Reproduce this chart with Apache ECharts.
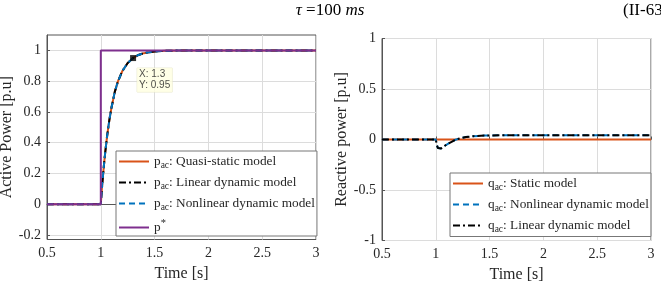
<!DOCTYPE html>
<html><head><meta charset="utf-8">
<script src="https://cdn.jsdelivr.net/npm/echarts@6/dist/echarts.min.js"></script>
<style>html,body{margin:0;padding:0;background:#fff;overflow:hidden}#c{width:661px;height:284px}</style>
</head><body><div id="c"></div>
<script>
// ---- data ----
const xTickValues = [0.5, 1, 1.5, 2, 2.5, 3];
const pYTicks = [-0.2, 0, 0.2, 0.4, 0.6, 0.8, 1];
const qYTicks = [-1, -0.5, 0, 0.5, 1];

const pStarTime = [0.5, 1.0, 1.0, 3.0];
const pStarVal  = [0, 0, 1, 1];

const pTime      = [0.5, 1.0, 1.01, 1.02, 1.03, 1.04, 1.06, 1.08, 1.1, 1.13, 1.16, 1.2, 1.25, 1.3, 1.35, 1.4, 1.5, 1.6, 1.8, 2.0, 3.0];
const pQuasi     = [0, 0, 0.10, 0.18, 0.26, 0.33, 0.45, 0.55, 0.63, 0.73, 0.80, 0.865, 0.918, 0.95, 0.97, 0.982, 0.993, 0.997, 1, 1, 1];
const pLinear    = [0, 0, 0.10, 0.18, 0.26, 0.33, 0.45, 0.55, 0.63, 0.73, 0.80, 0.865, 0.918, 0.95, 0.97, 0.982, 0.993, 0.997, 1, 1, 1];
const pNonlinear = [0, 0, 0.10, 0.18, 0.26, 0.33, 0.45, 0.55, 0.63, 0.73, 0.80, 0.865, 0.918, 0.95, 0.97, 0.982, 0.993, 0.997, 1, 1, 1];

const tipX = 1.3;
const tipY = 0.95;

const qStaticTime = [0.5, 3.0];
const qStatic     = [0, 0];
const qTime       = [0.5, 1.0, 1.01, 1.02, 1.03, 1.05, 1.08, 1.12, 1.16, 1.19, 1.23, 1.28, 1.35, 1.45, 1.6, 2.0, 3.0];
const qNonlinear  = [0, 0, -0.055, -0.085, -0.095, -0.088, -0.065, -0.038, -0.015, 0, 0.013, 0.024, 0.033, 0.039, 0.042, 0.043, 0.043];
const qLinear     = [0, 0, -0.055, -0.085, -0.095, -0.088, -0.065, -0.038, -0.015, 0, 0.013, 0.024, 0.033, 0.039, 0.042, 0.043, 0.043];

// ---- helpers ----
const zip = (xs, ys) => xs.map((x, i) => [x, ys[i]]);
const serif = 'Liberation Serif';
const txt = '#262626';
const frame = '#555555';
const gridC = '#dcdcdc';
const ORANGE = '#D95319', BLUE = '#0072BD', PURPLE = '#7E2F8E';
const dashDot = [7, 3, 2, 3];
const dashed = [6, 4];

function mkX(gi) {
  return {
    type: 'value', gridIndex: gi, min: 0.5, max: 3, interval: 0.5,
    name: 'Time [s]', nameLocation: 'middle', nameGap: 26,
    nameTextStyle: { fontFamily: serif, fontSize: 16, color: txt },
    axisLine: { show: true, lineStyle: { color: frame } },
    axisTick: { show: true, inside: true, length: 3, lineStyle: { color: frame } },
    axisLabel: { fontFamily: serif, fontSize: 14, color: txt, margin: 7 },
    splitLine: { show: true, lineStyle: { color: gridC, width: 1 } }
  };
}
function mkY(gi, name, min, max, ticks, interval, gap) {
  const o = {
    type: 'value', gridIndex: gi, min: min, max: max,
    name: name, nameLocation: 'middle', nameGap: gap,
    nameTextStyle: { fontFamily: serif, fontSize: 16, color: txt },
    axisLine: { show: true, lineStyle: { color: frame } },
    axisTick: { show: true, inside: true, length: 3, lineStyle: { color: frame } },
    axisLabel: { fontFamily: serif, fontSize: 14, color: txt, margin: 6 },
    splitLine: { show: true, lineStyle: { color: gridC, width: 1 } }
  };
  if (interval) o.interval = interval;
  else { o.axisLabel.customValues = ticks; o.axisTick.customValues = ticks; }
  return o;
}
function line(name, gi, data, color, type, z) {
  return {
    name: name, type: 'line', xAxisIndex: gi, yAxisIndex: gi, data: data,
    symbol: 'none', showSymbol: false, z: z,
    lineStyle: { color: color, width: 2, type: type },
    itemStyle: { color: color }, silent: true
  };
}

const richLeg = {
  v: { fontFamily: serif, fontSize: 13.3, color: txt },
  sub: { fontFamily: serif, fontSize: 9.5, color: txt, padding: [8, 0, 0, 0] },
  sup: { fontFamily: serif, fontSize: 10.5, color: txt, padding: [0, 0, 8, 0] }
};
const legLabels = {
  pq: '{v|p}{sub|ac}{v|: Quasi-static model}',
  pl: '{v|p}{sub|ac}{v|: Linear dynamic model}',
  pn: '{v|p}{sub|ac}{v|: Nonlinear dynamic model}',
  ps: '{v|p}{sup|*}',
  qs: '{v|q}{sub|ac}{v|: Static model}',
  qn: '{v|q}{sub|ac}{v|: Nonlinear dynamic model}',
  ql: '{v|q}{sub|ac}{v|: Linear dynamic model}'
};
function mkLegend(data, left, top) {
  return {
    data: data, left: left, top: top, orient: 'vertical',
    itemWidth: 30, itemHeight: 14, itemGap: 5.5,
    backgroundColor: '#fff', borderColor: '#777', borderWidth: 1, borderRadius: 0,
    padding: [4, 2, 2, 2],
    itemStyle: { color: 'rgba(0,0,0,0)', borderColor: 'rgba(0,0,0,0)', borderWidth: 0, opacity: 0 },
    textStyle: { fontFamily: serif, fontSize: 13.3, color: txt, rich: richLeg },
    formatter: n => legLabels[n],
    selectedMode: false
  };
}

const chart = echarts.init(document.getElementById('c'), null, { renderer: 'canvas' });
chart.setOption({
  animation: false,
  backgroundColor: '#fff',
  grid: [
    { left: 47, top: 35, width: 269, height: 204.5, show: true, borderColor: frame, borderWidth: 1, backgroundColor: '#fff', containLabel: false, outerBoundsMode: 'none' },
    { left: 382, top: 38.5, width: 269, height: 202, show: true, borderColor: frame, borderWidth: 1, backgroundColor: '#fff', containLabel: false, outerBoundsMode: 'none' }
  ],
  xAxis: [mkX(0), mkX(1)],
  yAxis: [
    mkY(0, 'Active Power [p.u]', -0.23, 1.1, pYTicks, null, 30),
    mkY(1, 'Reactive power [p.u]', -1, 1, qYTicks, 0.5, 28)
  ],
  legend: [
    mkLegend(['pq', 'pl', 'pn', 'ps'], 116, 151),
    mkLegend(['qs', 'qn', 'ql'], 450, 173)
  ],
  series: [
    line('pq', 0, zip(pTime, pQuasi), ORANGE, 'solid', 2),
    line('pl', 0, zip(pTime, pLinear), '#000', dashDot, 3),
    line('pn', 0, zip(pTime, pNonlinear), BLUE, dashed, 4),
    line('ps', 0, zip(pStarTime, pStarVal), PURPLE, 'solid', 5),
    {
      type: 'scatter', xAxisIndex: 0, yAxisIndex: 0, data: [[tipX, tipY]], z: 10, silent: true,
      symbol: 'rect', symbolSize: 6, itemStyle: { color: '#000' },
      label: {
        show: true, position: [7, 13],
        formatter: 'X: ' + tipX + '\nY: ' + tipY,
        fontFamily: 'Liberation Sans', fontSize: 10, lineHeight: 11, color: '#222',
        backgroundColor: '#ffffe1', padding: [1, 2], borderColor: '#e6e6c8', borderWidth: 0.5
      }
    },
    line('qs', 1, zip(qStaticTime, qStatic), ORANGE, 'solid', 2),
    line('qn', 1, zip(qTime, qNonlinear), BLUE, dashed, 3),
    line('ql', 1, zip(qTime, qLinear), '#000', dashDot, 4)
  ],
  graphic: [
    {
      type: 'text', x: 330, y: 11, z: 100,
      style: {
        text: '{i|τ} =100 {i|ms}', fill: '#000', align: 'center', verticalAlign: 'middle',
        font: '17px "Liberation Serif"',
        rich: { i: { fontStyle: 'italic', fontFamily: serif, fontSize: 17 } }
      }
    },
    {
      type: 'text', x: 623, y: 11, z: 100,
      style: { text: '(II-63)', fill: '#000', align: 'left', verticalAlign: 'middle', font: '17px "Liberation Serif"' }
    }
  ]
});
</script>
</body></html>
